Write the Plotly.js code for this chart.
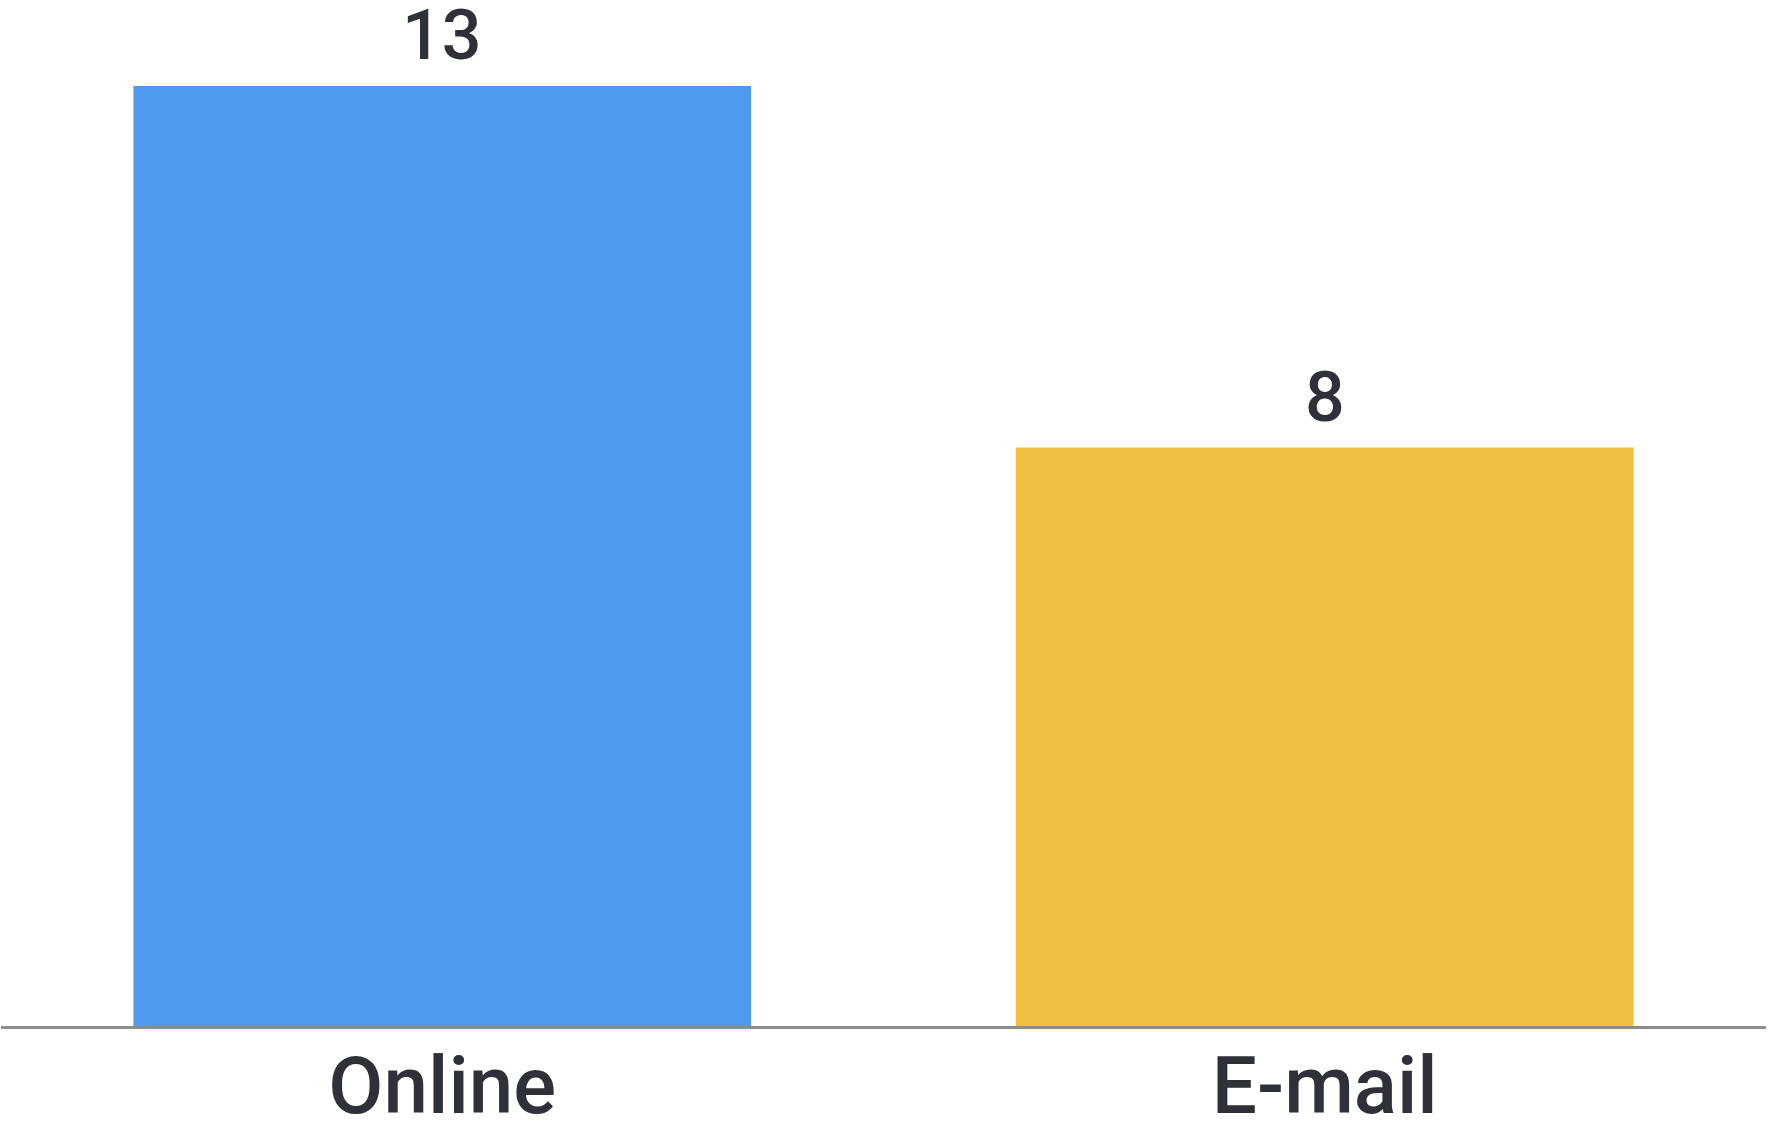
<!DOCTYPE html>
<html><head><meta charset="utf-8">
<script src="https://cdn.plot.ly/plotly-3.0.1.min.js"></script>
<style>html,body{margin:0;padding:0;background:#fff}#chart{width:1773px;height:1127px}</style>
</head><body><div id="chart"></div>
<script>
const categories = ["Online", "E-mail"];
const values = [13, 8];
const barColors = ["#4F9AEE", "#F0BF41"];

const trace = {
  type: "bar",
  x: categories,
  y: values,
  marker: {color: barColors},
  hoverinfo: "none"
};

const annotations = categories.map((c, i) => ({
  x: c, y: values[i], xref: "x", yref: "y",
  text: String(values[i]), showarrow: false,
  yanchor: "bottom", yshift: 8,
  font: {family: "Roboto, sans-serif", size: 70, weight: 500, color: "#2e3138"}
}));

const layout = {
  width: 1773, height: 1127,
  margin: {l: 1, r: 7, t: 86, b: 101},
  paper_bgcolor: "#fff", plot_bgcolor: "#fff",
  bargap: 0.3,
  showlegend: false,
  xaxis: {
    type: "category",
    showline: true, linecolor: "#8c8c8c", linewidth: 3,
    ticks: "", showgrid: false, zeroline: false,
    tickfont: {family: "Roboto, sans-serif", size: 80, weight: 500, color: "#2e3138"},
    ticklabelstandoff: -12
  },
  yaxis: {
    range: [0, 13], showticklabels: false, showgrid: false,
    zeroline: false, showline: false, ticks: ""
  },
  annotations: annotations
};

Plotly.newPlot("chart", [trace], layout, {staticPlot: true});
</script></body></html>
